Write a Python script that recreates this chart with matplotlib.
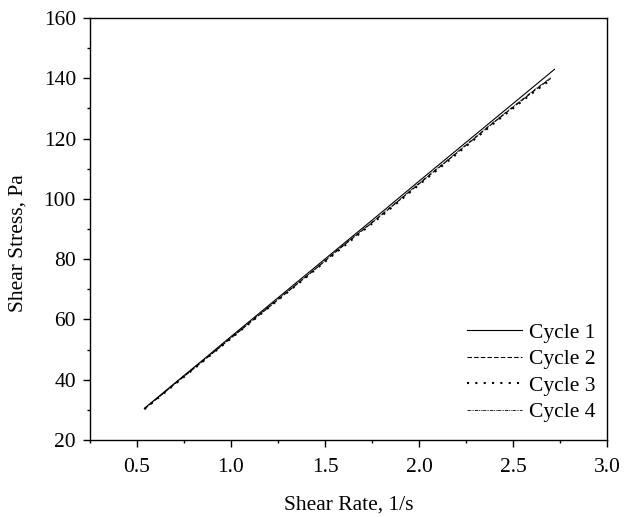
import matplotlib.pyplot as plt
from matplotlib.ticker import MultipleLocator

plt.rcParams['font.family'] = ['Liberation Serif', 'DejaVu Serif']

# shear rate (1/s) and shear stress (Pa)
rate_1 = [0.54, 0.70, 0.85, 1.00, 1.20, 1.40, 1.60, 1.80, 2.00, 2.20, 2.40, 2.60, 2.72]
stress_1 = [30.5, 38.8, 46.5, 54.3, 64.6, 74.9, 85.2, 95.5, 105.9, 116.2, 126.5, 136.8, 143.0]

rate_2 = [0.54, 0.70, 0.85, 1.00, 1.20, 1.40, 1.60, 1.80, 2.00, 2.20, 2.40, 2.60, 2.70]
stress_2 = [30.3, 38.5, 46.1, 53.8, 64.0, 74.2, 84.6, 94.6, 105.0, 115.2, 125.5, 135.3, 140.0]

rate_3 = [0.54, 0.70, 0.85, 1.00, 1.20, 1.40, 1.60, 1.80, 2.00, 2.20, 2.40, 2.60, 2.70]
stress_3 = [30.2, 38.4, 46.0, 53.7, 63.9, 74.0, 84.3, 94.3, 104.7, 114.9, 125.2, 135.0, 139.6]

rate_4 = [0.54, 0.70, 0.85, 1.00, 1.20, 1.40, 1.60, 1.80, 2.00, 2.20, 2.40, 2.60, 2.70]
stress_4 = [30.3, 38.6, 46.2, 53.9, 64.2, 74.3, 84.8, 94.8, 105.2, 115.4, 125.7, 135.6, 140.2]

fig = plt.figure(figsize=(6.24, 5.17), dpi=100)
ax = fig.add_axes([0.144, 0.149, 0.829, 0.816])

ax.plot(rate_1, stress_1, color="black", lw=0.8, ls="-", label="Cycle 1")
ax.plot(rate_2, stress_2, color="black", lw=0.8, ls=(0, (4, 2)), label="Cycle 2")
ax.plot(rate_3, stress_3, color="black", lw=1.5, ls=(0, (1, 3)), label="Cycle 3")
ax.plot(rate_4, stress_4, color="black", lw=0.6, ls=(0, (4, 1, 1, 1, 1, 1)), label="Cycle 4")

ax.set_xlim(0.25, 3.0)
ax.set_ylim(20, 160)
ax.xaxis.set_major_locator(MultipleLocator(0.5))
ax.xaxis.set_minor_locator(MultipleLocator(0.25))
ax.yaxis.set_major_locator(MultipleLocator(20))
ax.yaxis.set_minor_locator(MultipleLocator(10))
ax.set_xticks([0.5, 1.0, 1.5, 2.0, 2.5, 3.0])
ax.tick_params(which="major", direction="out", length=5, width=1, labelsize=15.5)
ax.tick_params(which="minor", direction="out", length=2.5, width=1)
ax.tick_params(axis="x", which="major", pad=8)
ax.tick_params(axis="y", which="major", pad=5)
for s in ax.spines.values():
    s.set_linewidth(1)

ax.set_xlabel("Shear Rate, 1/s", fontsize=15.5, labelpad=13)
ax.set_ylabel("Shear Stress, Pa", fontsize=15.5)
ax.yaxis.set_label_coords(-0.12, 0.467)

ax.legend(loc="lower right", bbox_to_anchor=(0.9934, 0.021), frameon=False,
          fontsize=15.5, handlelength=2.55, handletextpad=0.3, labelspacing=0.3,
          borderaxespad=0)

fig.savefig("out.png", dpi=100)
